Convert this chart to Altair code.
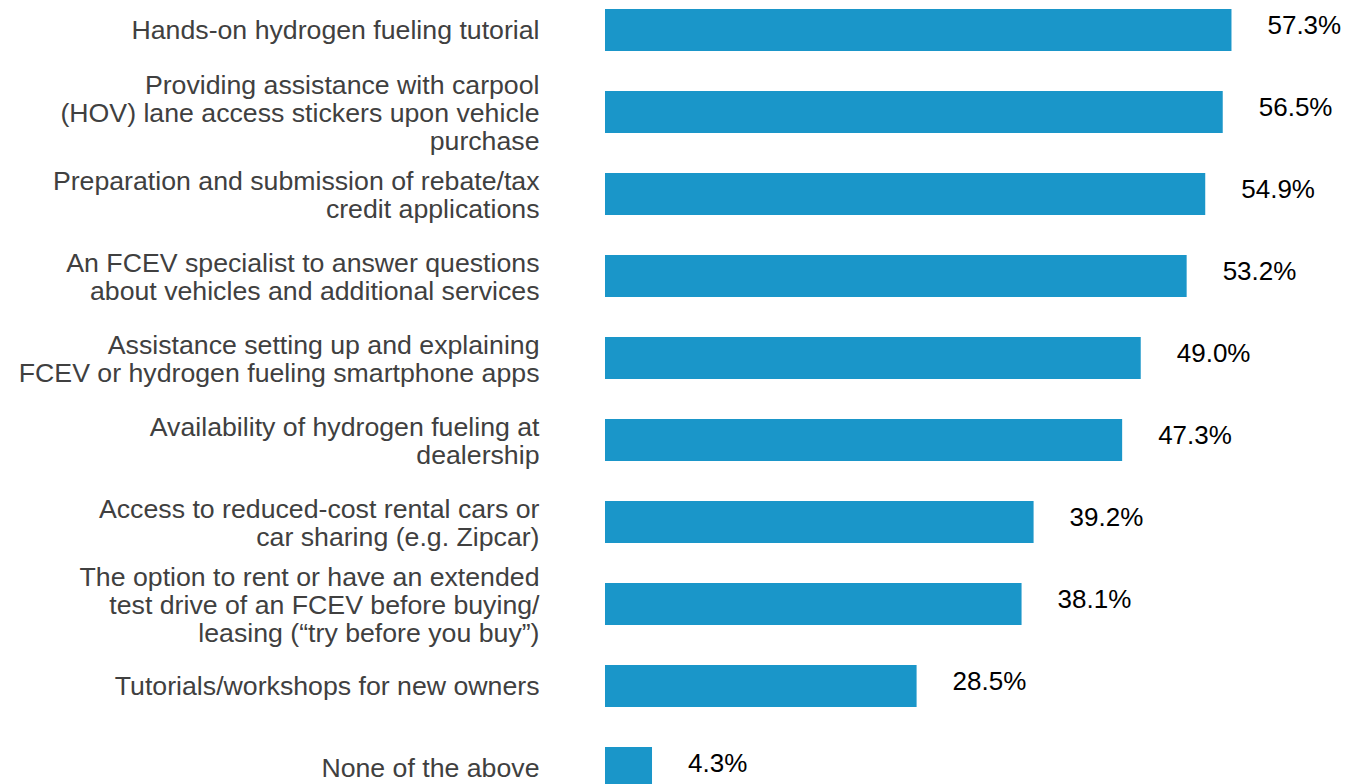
import altair as alt
import pandas as pd

categories = [
    "Hands-on hydrogen fueling tutorial",
    "Providing assistance with carpool|(HOV) lane access stickers upon vehicle|purchase",
    "Preparation and submission of rebate/tax|credit applications",
    "An FCEV specialist to answer questions|about vehicles and additional services",
    "Assistance setting up and explaining|FCEV or hydrogen fueling smartphone apps",
    "Availability of hydrogen fueling at|dealership",
    "Access to reduced-cost rental cars or|car sharing (e.g. Zipcar)",
    "The option to rent or have an extended|test drive of an FCEV before buying/|leasing (\u201ctry before you buy\u201d)",
    "Tutorials/workshops for new owners",
    "None of the above",
]
values = [57.3, 56.5, 54.9, 53.2, 49.0, 47.3, 39.2, 38.1, 28.5, 4.3]

df = pd.DataFrame({"category": categories, "value": values})
df["label"] = [f"{v:.1f}%" for v in values]

FONT = "Liberation Sans"
LINE_H = 28

y_enc = alt.Y(
    "category:N",
    sort=categories,
    scale=alt.Scale(paddingInner=0.4878, paddingOuter=0, range=[0, 780]),
    axis=alt.Axis(
        title=None,
        domain=False,
        ticks=False,
        grid=False,
        labelPadding=66,
        labelFont=FONT,
        labelFontSize=26.7,
        labelColor="#404040",
        labelLimit=800,
        labelLineHeight=LINE_H,
        labelAlign="right",
        labelBaseline="middle",
        labelExpr="split(datum.label, '|')",
        labelOffset={
            "condition": [
                {"test": "length(split(datum.label, '|')) == 3", "value": -LINE_H + 2},
                {"test": "length(split(datum.label, '|')) == 2", "value": -LINE_H / 2 + 2},
            ],
            "value": 1,
        },
    ),
)
x_enc = alt.X("value:Q", scale=alt.Scale(domain=[0, 60]), axis=None)

base = alt.Chart(df)
bars = base.mark_bar(color="#1A96C9").encode(x=x_enc, y=y_enc)
text = base.mark_text(
    align="left", baseline="middle", dx=36, dy=-4,
    font=FONT, fontSize=26, color="#000000"
).encode(x=x_enc, y=y_enc, text="label:N")

chart = (
    alt.layer(bars, text)
    .properties(
        width=656,
        height=780,
        background="white",
        autosize=alt.AutoSizeParams(type="none"),
        padding={"left": 597, "top": 1, "right": 80, "bottom": 0},
    )
    .configure_view(strokeWidth=0, stroke="transparent")
)

chart.save("out.html", embed_options={"renderer": "svg", "actions": False})
